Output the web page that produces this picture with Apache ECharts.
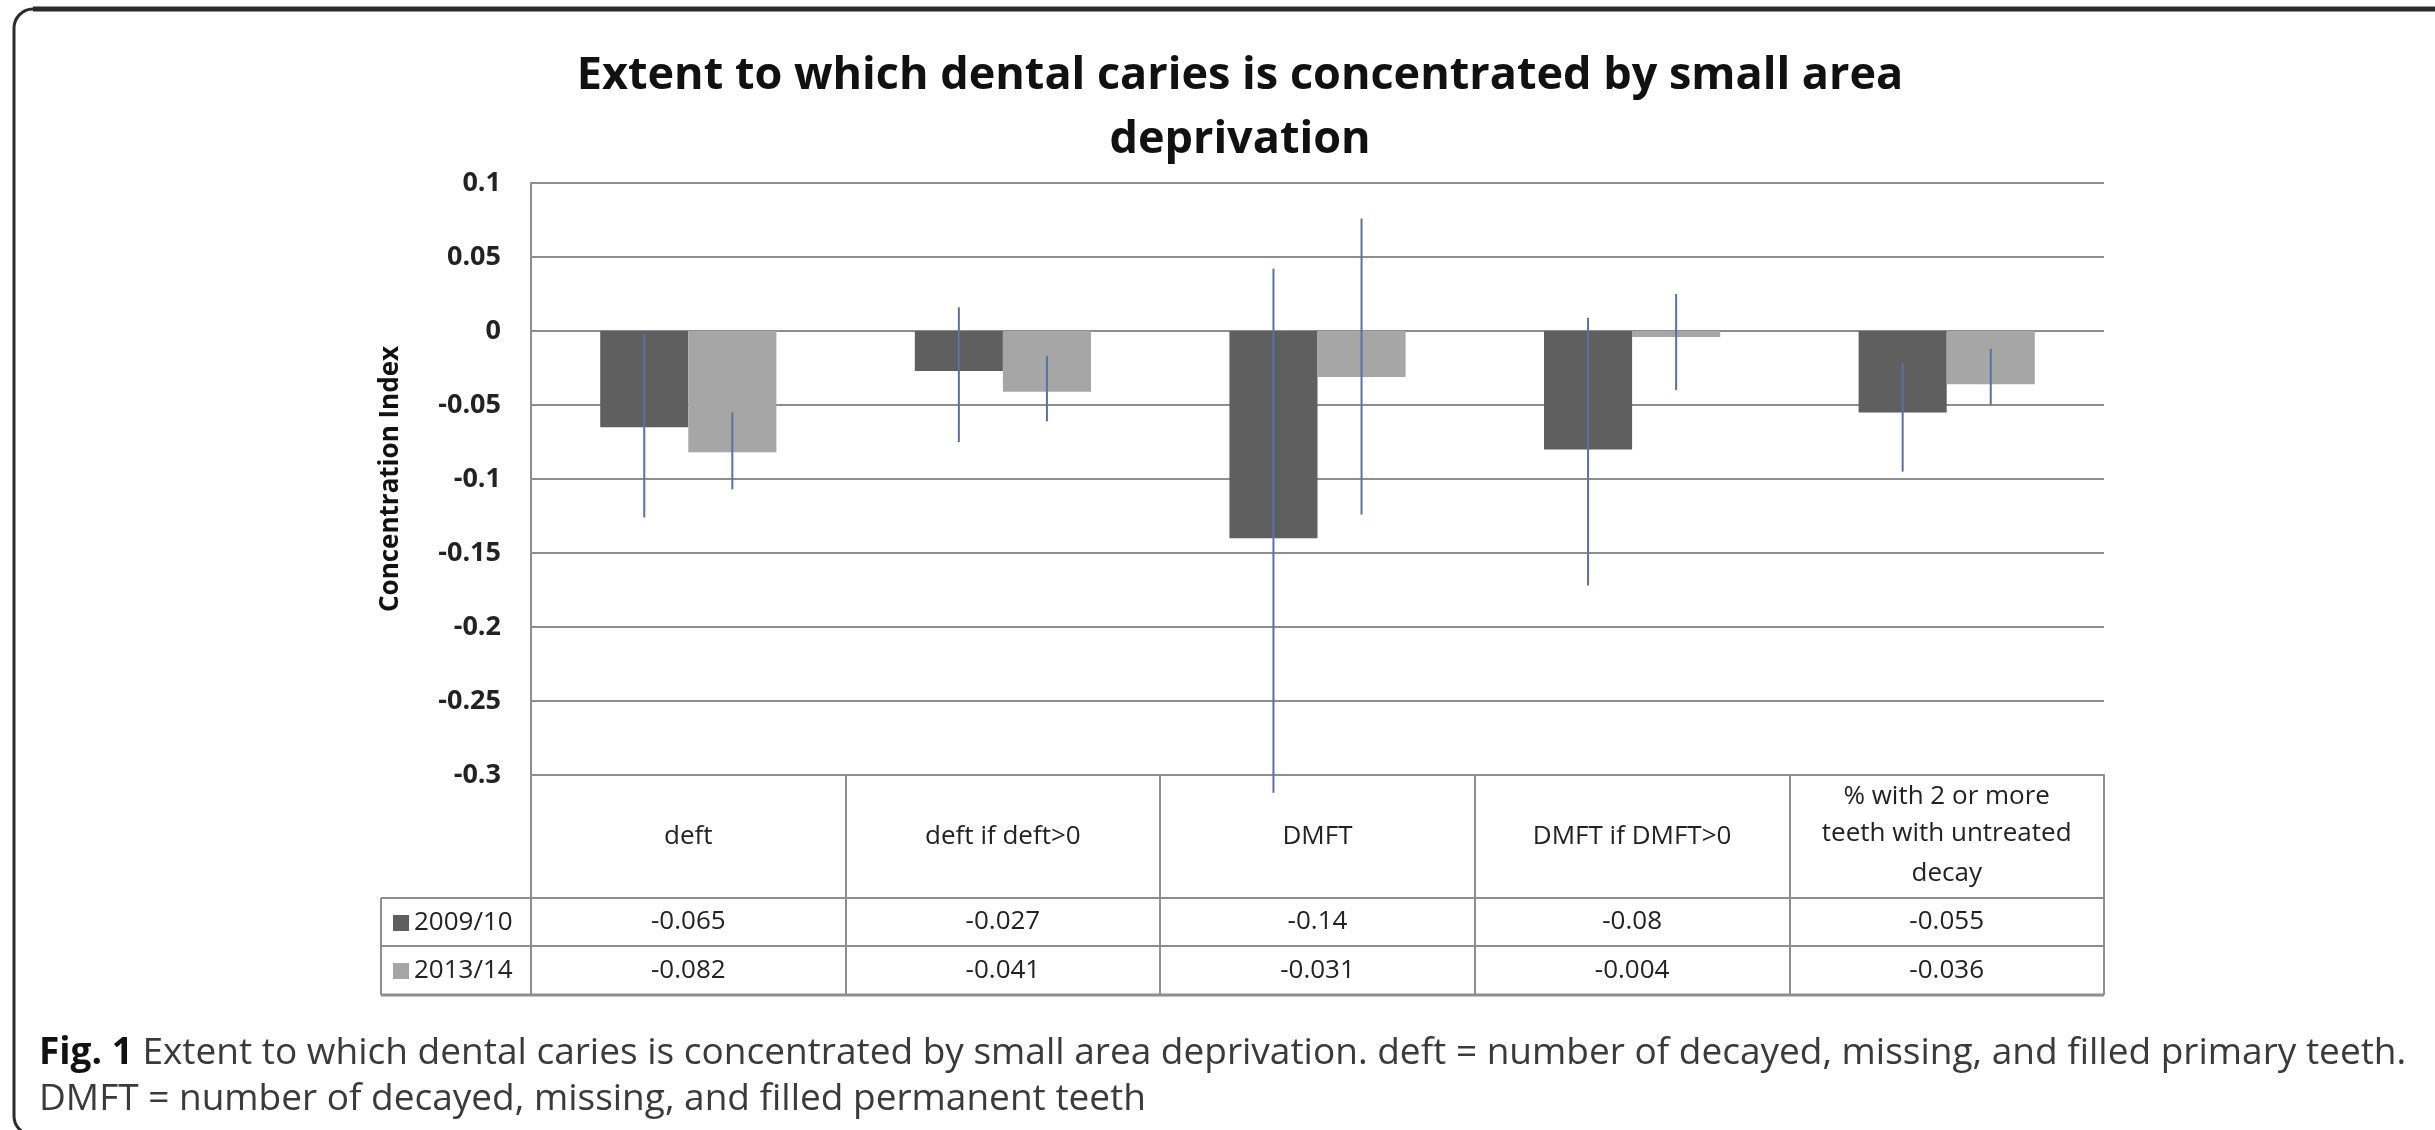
<!DOCTYPE html>
<html>
<head>
<meta charset="utf-8">
<script src="https://cdn.jsdelivr.net/npm/echarts@6/dist/echarts.min.js"></script>
<style>
  html, body { margin: 0; padding: 0; background: #ffffff; }
  #chart { width: 2435px; height: 1130px; }
</style>
</head>
<body>
<div id="chart"></div>
<script>
// Outcome measures (columns of the data table)
const categories = [
  'deft',
  'deft if deft>0',
  'DMFT',
  'DMFT if DMFT>0',
  '% with 2 or more\nteeth with untreated\ndecay'
];
const seriesNames = ['2009/10', '2013/14'];

// Concentration index per survey year
const values2009 = [-0.065, -0.027, -0.14, -0.08, -0.055];
const values2013 = [-0.082, -0.041, -0.031, -0.004, -0.036];

// Confidence interval limits
const ciLow2009  = [-0.126, -0.075, -0.312, -0.172, -0.095];
const ciHigh2009 = [-0.002,  0.016,  0.042,  0.009, -0.022];
const ciLow2013  = [-0.107, -0.061, -0.124, -0.040, -0.050];
const ciHigh2013 = [-0.055, -0.017,  0.076,  0.025, -0.012];

// Value axis
const yMin = -0.3, yMax = 0.1, yStep = 0.05;

const FONT = 'Open Sans';
const colors = ['#5f5f5f', '#a6a6a6'];
const errColor = '#5a70a6';
const gridColor = '#8e8e8e';
const CAT_GAP = 0.44;
const CELL_FONT = 26;

// Layout of the plot and of the data table underneath it
const G = { left: 531, right: 2104, top: 183, bottom: 775 };
const headerH = 123, rowH1 = 48, rowH2 = 49;
const tableLeft = 381;

function cellLabel(value, index) {
  const lines = categories[index].split('\n');
  let head;
  if (lines.length === 1) {
    head = '{h|' + lines[0] + '}';
  } else {
    head = '{ha|' + lines[0] + '}\n{hb|' + lines[1] + '}\n{hc|' + lines[2] + '}';
  }
  return head + '\n{v1|' + values2009[index] + '}\n{v2|' + values2013[index] + '}';
}

function cellStyle(h) {
  return { fontFamily: FONT, fontSize: CELL_FONT, color: '#222222', height: h, lineHeight: h };
}

function errorItem(side) {
  return function (params, api) {
    const i = api.value(0);
    const hi = api.coord([i, api.value(2)]);
    const lo = api.coord([i, api.value(1)]);
    const band = api.size([1, 0])[0];
    const bw = band * (1 - CAT_GAP) / 2;
    const x = hi[0] + side * bw / 2;
    return {
      type: 'line',
      shape: { x1: x, y1: hi[1], x2: x, y2: lo[1] },
      style: { stroke: errColor, lineWidth: 2 }
    };
  };
}

const chart = echarts.init(document.getElementById('chart'), null, { renderer: 'canvas' });

const tableBottom = G.bottom + headerH + rowH1 + rowH2;
const lineStyle = { stroke: '#8e8e8e', lineWidth: 2 };

chart.setOption({
  animation: false,
  backgroundColor: '#ffffff',
  title: [
    {
      text: 'Extent to which dental caries is concentrated by small area\ndeprivation',
      left: 1235,
      top: 39,
      textAlign: 'center',
      textStyle: { fontFamily: FONT, fontSize: 45, fontWeight: 'bold', color: '#111111', lineHeight: 64 }
    },
    {
      text: '{b|Fig. 1} Extent to which dental caries is concentrated by small area deprivation. deft = number of decayed, missing, and filled primary teeth.\nDMFT = number of decayed, missing, and filled permanent teeth',
      left: 34,
      top: 1025,
      textStyle: {
        fontFamily: FONT, fontSize: 37, fontWeight: 'normal', color: '#3a3a3a', lineHeight: 46,
        rich: { b: { fontFamily: FONT, fontSize: 37, fontWeight: 'bold', color: '#111111', lineHeight: 46 } }
      }
    }
  ],
  legend: {
    data: seriesNames,
    orient: 'vertical',
    left: 388,
    top: G.bottom + headerH - 4,
    itemWidth: 16,
    itemHeight: 16,
    itemGap: 0,
    icon: 'rect',
    selectedMode: false,
    textStyle: { fontFamily: FONT, fontSize: 26, color: '#222222', lineHeight: 48 }
  },
  grid: { left: G.left, right: 2435 - G.right, top: G.top, bottom: 1130 - G.bottom, containLabel: false },
  xAxis: {
    type: 'category',
    data: categories,
    boundaryGap: true,
    axisLine: { show: true, onZero: false, lineStyle: { color: gridColor, width: 2 } },
    axisTick: { show: true, interval: 0, length: headerH + rowH1 + rowH2, lineStyle: { color: gridColor, width: 2 } },
    axisLabel: {
      interval: 0,
      margin: 0,
      formatter: cellLabel,
      color: '#222222',
      fontFamily: FONT,
      fontSize: CELL_FONT,
      rich: {
        h: cellStyle(headerH),
        ha: cellStyle(44),
        hb: cellStyle(30),
        hc: cellStyle(49),
        v1: cellStyle(rowH1),
        v2: cellStyle(rowH2)
      }
    },
    splitLine: { show: false }
  },
  yAxis: {
    type: 'value',
    min: yMin,
    max: yMax,
    interval: yStep,
    name: 'Concentration Index',
    nameLocation: 'middle',
    nameGap: 127,
    nameTextStyle: { fontFamily: FONT, fontSize: 26, fontWeight: 'bold', color: '#111111' },
    axisLine: { show: true, lineStyle: { color: gridColor, width: 2 } },
    axisTick: { show: false },
    axisLabel: {
      margin: 30,
      fontFamily: FONT,
      fontSize: 27,
      fontWeight: 'bold',
      color: '#222222',
      formatter: v => String(+v.toFixed(2))
    },
    splitLine: { show: true, lineStyle: { color: gridColor, width: 2 } }
  },
  series: [
    {
      name: seriesNames[0], type: 'bar', data: values2009,
      itemStyle: { color: colors[0] }, barGap: '0%', barCategoryGap: (CAT_GAP * 100) + '%'
    },
    {
      name: seriesNames[1], type: 'bar', data: values2013,
      itemStyle: { color: colors[1] }, barGap: '0%', barCategoryGap: (CAT_GAP * 100) + '%'
    },
    {
      type: 'custom', name: 'ci2009', z: 5, clip: false,
      renderItem: errorItem(-1),
      encode: { x: 0, y: [1, 2] },
      data: categories.map((c, i) => [i, ciLow2009[i], ciHigh2009[i]])
    },
    {
      type: 'custom', name: 'ci2013', z: 5, clip: false,
      renderItem: errorItem(1),
      encode: { x: 0, y: [1, 2] },
      data: categories.map((c, i) => [i, ciLow2013[i], ciHigh2013[i]])
    }
  ],
  graphic: [
    // figure frame (open towards the right and bottom)
    { type: 'rect', shape: { x: 14, y: 9, width: 2600, height: 1126, r: 19 }, style: { fill: null, stroke: '#2b2b2b', lineWidth: 3 }, silent: true },
    { type: 'line', shape: { x1: 33, y1: 9, x2: 2435, y2: 9 }, style: { stroke: '#2b2b2b', lineWidth: 5 }, silent: true },
    // data table rules
    { type: 'line', shape: { x1: tableLeft, y1: G.bottom + headerH, x2: G.right, y2: G.bottom + headerH }, style: lineStyle, silent: true },
    { type: 'line', shape: { x1: tableLeft, y1: G.bottom + headerH + rowH1, x2: G.right, y2: G.bottom + headerH + rowH1 }, style: lineStyle, silent: true },
    { type: 'line', shape: { x1: tableLeft, y1: tableBottom, x2: G.right, y2: tableBottom }, style: { stroke: '#8e8e8e', lineWidth: 3 }, silent: true },
    { type: 'line', shape: { x1: tableLeft, y1: G.bottom + headerH, x2: tableLeft, y2: tableBottom }, style: lineStyle, silent: true }
  ]
});
</script>
</body>
</html>
